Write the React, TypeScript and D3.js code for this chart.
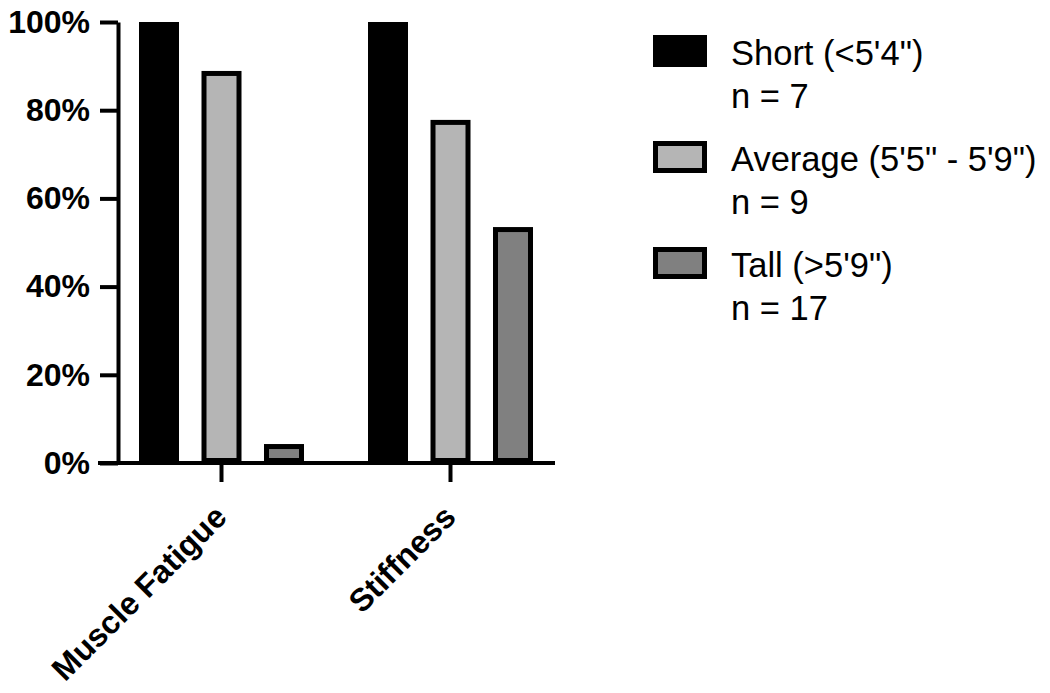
import { useEffect, useRef } from 'react';
import * as d3 from 'd3';

// data
const categories = ['Muscle Fatigue', 'Stiffness'];
const seriesKeys = ['short', 'average', 'tall'];
const seriesLabels = ['Short (<5\'4")', 'Average (5\'5" - 5\'9")', 'Tall (>5\'9")'];
const seriesN = [7, 9, 17];
const shortValues = [100, 100];
const averageValues = [88.9, 77.8];
const tallValues = [4.3, 53.5];
const yTicks = [0, 20, 40, 60, 80, 100];

const seriesColors = ['#000000', '#b5b5b5', '#808080'];

export default function App() {
    const svgRef = useRef<SVGSVGElement>(null);

    useEffect(() => {
        const svg = d3.select(svgRef.current);
        svg.selectAll('*').remove();

        const width = 1050;
        const height = 693;
        const font = '"Liberation Sans", Arial, Helvetica, sans-serif';
        const bw = 5; // bar border

        svg.attr('width', width).attr('height', height);

        const table = categories.map((c, i) => ({
            category: c,
            values: [shortValues[i], averageValues[i], tallValues[i]],
        }));

        // scales
        const x = d3.scaleBand().domain(categories).range([107, 565]);
        const xInner = d3
            .scaleBand()
            .domain(seriesKeys)
            .range([-82.5, 82.5])
            .paddingInner(0.36)
            .paddingOuter(0);
        const y = d3.scaleLinear().domain([0, 100]).range([463, 22]);

        const color = d3.scaleOrdinal<string, string>().domain(seriesKeys).range(seriesColors);

        // bars (border drawn inside the bar)
        const groups = svg
            .append('g')
            .selectAll('g')
            .data(table)
            .enter()
            .append('g')
            .attr('transform', (d) => `translate(${x(d.category)! + x.bandwidth() / 2},0)`);

        groups
            .selectAll('rect')
            .data((d) => d.values.map((v, j) => ({ key: seriesKeys[j], value: v })))
            .enter()
            .append('rect')
            .attr('x', (d) => xInner(d.key)! + bw / 2)
            .attr('y', (d) => y(d.value) + bw / 2)
            .attr('width', xInner.bandwidth() - bw)
            .attr('height', (d) => Math.max(0, y(0) - y(d.value) - bw))
            .attr('fill', (d) => color(d.key))
            .attr('stroke', '#000')
            .attr('stroke-width', bw);

        // y axis
        const yAxis = svg
            .append('g')
            .attr('transform', 'translate(118,0)')
            .call(
                d3
                    .axisLeft(y)
                    .tickValues(yTicks)
                    .tickSize(18)
                    .tickSizeOuter(0)
                    .tickPadding(10)
                    .tickFormat((d) => `${d}%`)
            );
        yAxis.select('.domain').attr('stroke', '#000').attr('stroke-width', 4);
        yAxis.selectAll('.tick line').attr('stroke', '#000').attr('stroke-width', 4);
        yAxis
            .selectAll('.tick text')
            .attr('fill', '#000')
            .style('font-family', font)
            .style('font-size', '32px')
            .style('font-weight', 'bold');

        // x axis
        const xAxis = svg
            .append('g')
            .attr('transform', `translate(0,${y(0)})`)
            .call(d3.axisBottom(x).tickSize(19).tickSizeOuter(0).tickFormat(() => ''));
        xAxis.select('.domain').remove();
        xAxis.selectAll('.tick line').attr('stroke', '#000').attr('stroke-width', 4);
        xAxis
            .append('line')
            .attr('x1', 98)
            .attr('x2', 555)
            .attr('stroke', '#000')
            .attr('stroke-width', 4);

        svg
            .append('g')
            .selectAll('text')
            .data(categories)
            .enter()
            .append('text')
            .attr('transform', (d) => `translate(${x(d)! + x.bandwidth() / 2 + 7},${y(0) + 56}) rotate(-45)`)
            .attr('text-anchor', 'end')
            .style('font-family', font)
            .style('font-size', '32px')
            .style('font-weight', 'bold')
            .attr('fill', '#000')
            .text((d) => d);

        // legend
        const legend = svg
            .append('g')
            .selectAll('g')
            .data(seriesKeys)
            .enter()
            .append('g')
            .attr('transform', (d, i) => `translate(653,${35 + i * 106})`);

        legend
            .append('rect')
            .attr('x', bw / 2)
            .attr('y', bw / 2)
            .attr('width', 54 - bw)
            .attr('height', 32 - bw)
            .attr('fill', (d) => color(d))
            .attr('stroke', '#000')
            .attr('stroke-width', bw);

        const lt = legend
            .append('text')
            .style('font-family', font)
            .style('font-size', '34.5px')
            .attr('fill', '#000');
        lt.append('tspan')
            .attr('x', 78)
            .attr('y', 30)
            .text((d, i) => seriesLabels[i]);
        lt.append('tspan')
            .attr('x', 78)
            .attr('y', 73)
            .text((d, i) => `n = ${seriesN[i]}`);
    }, []);

    return (
        <div style={{ position: 'absolute', left: 0, top: 0 }}>
            <svg ref={svgRef}></svg>
        </div>
    );
}
